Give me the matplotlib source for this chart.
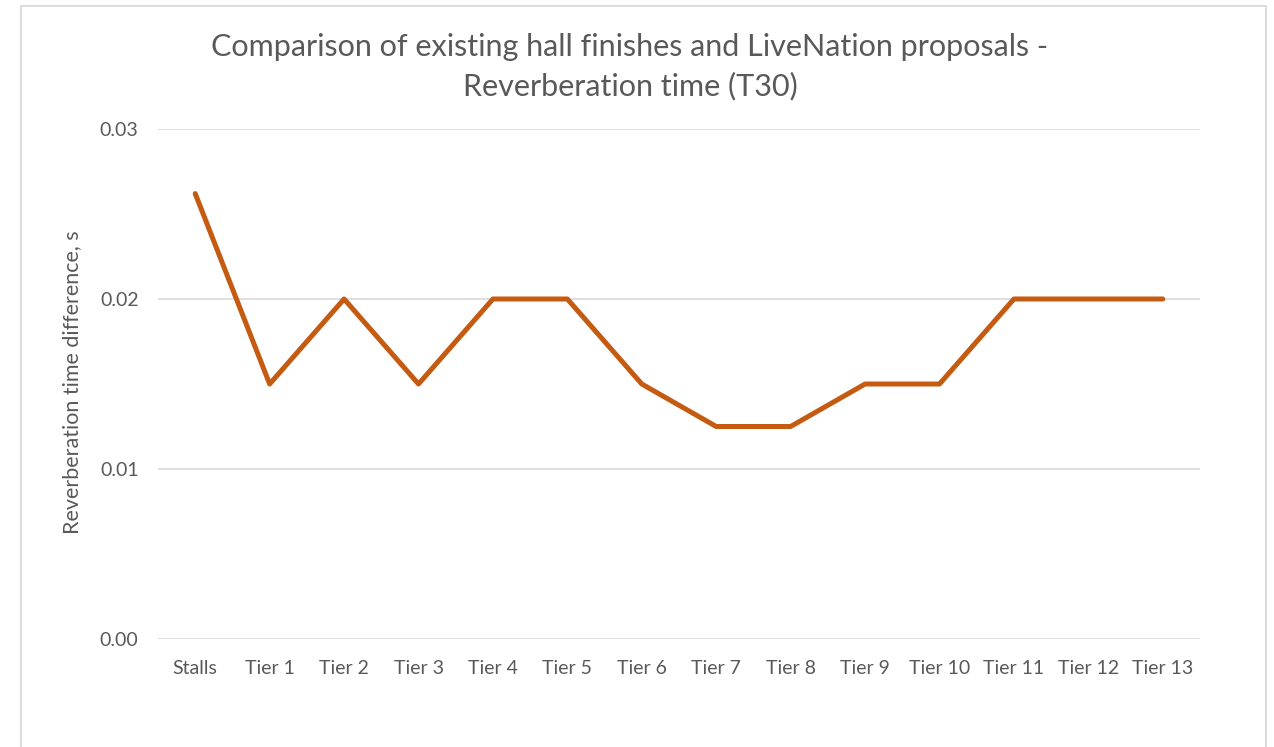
import matplotlib.pyplot as plt
from matplotlib.patches import Rectangle

categories = ["Stalls", "Tier 1", "Tier 2", "Tier 3", "Tier 4", "Tier 5", "Tier 6",
              "Tier 7", "Tier 8", "Tier 9", "Tier 10", "Tier 11", "Tier 12", "Tier 13"]
rt_difference = [0.0262, 0.015, 0.020, 0.015, 0.020, 0.020, 0.015,
                 0.0125, 0.0125, 0.015, 0.015, 0.020, 0.020, 0.020]
y_ticks = [0.00, 0.01, 0.02, 0.03]
y_tick_labels = ["0.00", "0.01", "0.02", "0.03"]

plt.rcParams['font.family'] = ['Lato', 'DejaVu Sans']
text_color = "#595959"
grid_color = "#d9d9d9"

W, H = 1274, 747
fig = plt.figure(figsize=(W / 100, H / 100), dpi=100)
ax = fig.add_axes([158 / W, 1 - 639 / H, (1200 - 158) / W, (639 - 129) / H])

x = list(range(len(categories)))
ax.plot(x, rt_difference, color="#C55A11", linewidth=3.6, solid_joinstyle="round",
        solid_capstyle="round", zorder=3)

ax.set_xlim(-0.5, len(categories) - 0.5)
ax.set_ylim(0, 0.03)
ax.set_yticks(y_ticks)
ax.set_yticklabels(y_tick_labels)
ax.set_xticks(x)
ax.set_xticklabels(categories)

for t in y_ticks:
    ax.axhline(t, color=grid_color, linewidth=1.2, zorder=1)

for s in ax.spines.values():
    s.set_visible(False)
ax.tick_params(axis="both", length=0, colors=text_color, labelsize=14)
ax.tick_params(axis="y", pad=14)
ax.tick_params(axis="x", pad=15)

ax.set_ylabel("Reverberation time difference, s", color=text_color, fontsize=15.5)
ax.yaxis.set_label_coords(82 / W, 1 - 382 / H, transform=fig.transFigure)

fig.text(630 / W, 1 - 67 / H,
         "Comparison of existing hall finishes and LiveNation proposals -\nReverberation time (T30)",
         ha="center", va="center", color=text_color, fontsize=22, linespacing=1.45)

# chart frame
fig.patches.append(Rectangle((21 / W, -0.05), (1266 - 21) / W, 1.05 - 6 / H,
                             transform=fig.transFigure, fill=False,
                             edgecolor=grid_color, linewidth=1.3))

fig.savefig("out.png", dpi=100, facecolor="white")
